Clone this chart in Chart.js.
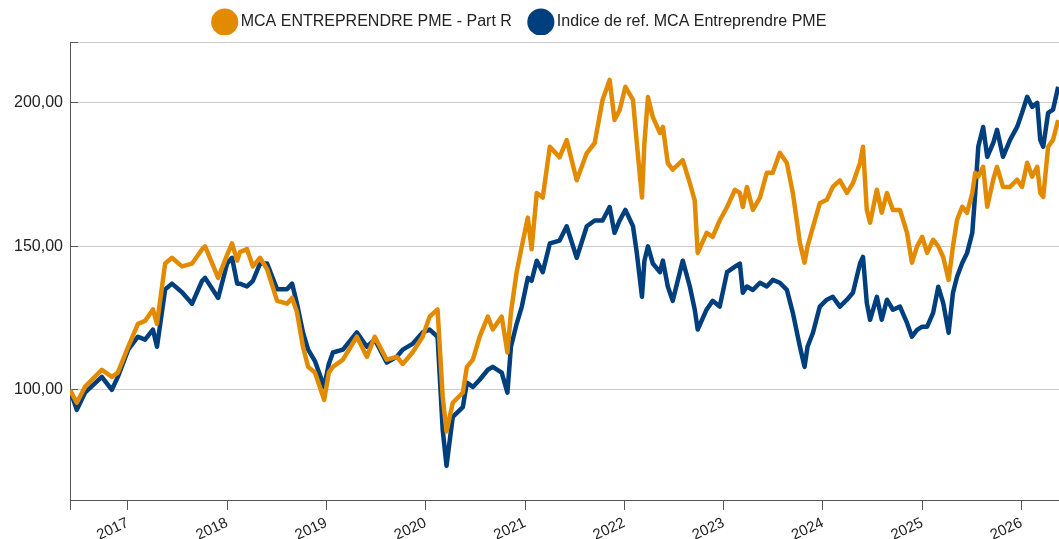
<!DOCTYPE html>
<html>
<head>
<meta charset="utf-8">
<script src="https://cdn.jsdelivr.net/npm/chart.js@4.4.1/dist/chart.umd.min.js"></script>
<style>
  html, body { margin: 0; padding: 0; background: #ffffff; }
  #wrap { width: 1059px; height: 539px; }
</style>
</head>
<body>
<div id="wrap"><canvas id="c" width="1059" height="539"></canvas></div>
<script>
// ---------------- DATA ----------------
const seriesNames = ['MCA ENTREPRENDRE PME - Part R', 'Indice de ref. MCA Entreprendre PME'];

const dates = [
  '2016-06-02','2016-06-27','2016-07-27','2016-09-27','2016-11-03','2016-11-25',
  '2017-01-02','2017-02-07','2017-03-05','2017-04-03','2017-04-18','2017-05-18','2017-06-12','2017-07-19','2017-08-25','2017-10-01','2017-10-12','2017-11-29',
  '2018-01-01','2018-01-19','2018-02-07','2018-02-17','2018-03-15','2018-04-06','2018-05-02','2018-05-28','2018-07-04','2018-08-09','2018-08-28','2018-09-15','2018-10-07','2018-10-26','2018-11-20','2018-12-24',
  '2019-01-10','2019-01-25','2019-03-03','2019-04-23','2019-05-30','2019-06-28','2019-08-11','2019-09-17','2019-10-09','2019-11-14','2019-12-21',
  '2020-01-16','2020-02-14','2020-03-04','2020-03-18','2020-04-10','2020-05-17','2020-06-01','2020-06-23','2020-07-18','2020-08-17','2020-09-04','2020-10-07','2020-10-28','2020-11-10','2020-12-01','2020-12-20',
  '2021-01-11','2021-01-25','2021-02-13','2021-03-07','2021-04-02','2021-05-08','2021-06-03','2021-07-10','2021-08-16','2021-09-14','2021-10-13','2021-11-08','2021-11-26','2021-12-15',
  '2022-01-05','2022-02-02','2022-02-16','2022-03-07','2022-03-16','2022-03-29','2022-04-16','2022-05-12','2022-05-23','2022-06-10','2022-06-28','2022-08-04','2022-08-30','2022-09-17','2022-09-28','2022-10-31','2022-11-22','2022-12-18',
  '2023-01-14','2023-02-12','2023-03-02','2023-03-13','2023-03-28','2023-04-19','2023-05-15','2023-06-09','2023-07-01','2023-07-27','2023-08-22','2023-09-13','2023-10-09','2023-10-26','2023-11-06','2023-11-26','2023-12-21',
  '2024-01-16','2024-02-07','2024-03-04','2024-03-30','2024-04-21','2024-05-17','2024-05-28','2024-06-11','2024-06-23','2024-07-18','2024-08-05','2024-08-24','2024-09-15','2024-10-11','2024-11-06','2024-11-24','2024-12-13',
  '2025-01-01','2025-01-19','2025-02-10','2025-03-01','2025-03-19','2025-04-08','2025-04-24','2025-05-09','2025-05-28','2025-06-15','2025-07-04','2025-07-15','2025-07-26','2025-08-13','2025-08-28','2025-09-19','2025-10-03','2025-10-25','2025-11-20','2025-12-16',
  '2026-01-03','2026-01-22','2026-02-09','2026-02-28','2026-03-11','2026-03-22','2026-04-09','2026-04-27','2026-05-16'
];

const fundValues = [
  100, 95.5, 101, 107, 104.5, 106,
  115, 123, 124, 128, 123, 144, 146, 143, 144, 149, 150, 139,
  147, 151, 145, 148, 149, 143, 146, 142, 131, 130, 132, 127, 115, 108, 106, 96.5,
  106, 108, 110.5, 118.5, 111.5, 118.5, 110.5, 111.5, 109, 113, 118.5,
  125.5, 128, 97.5, 85.5, 95.5, 99, 108, 110.5, 118.5, 125.5, 121, 125.5, 113, 127, 141, 150,
  160, 149, 168.6, 167, 184.7, 181, 187, 173, 182.5, 186, 201, 208, 194, 197.5,
  205.6, 201, 186, 167, 186, 202, 195, 189.5, 191.6, 179, 176.7, 180, 172, 166, 147.7, 154.7, 153.3, 159,
  163.7, 169.7, 168.6, 163.7, 170.7, 162.7, 167, 175.6, 175.6, 182.6, 179, 168.6, 151.2, 144.3, 150, 156.8, 165,
  166.2, 170.7, 173, 168.6, 172, 179, 184.7, 162.7, 158.2, 169.7, 161.7, 168.6, 162.7, 162.7, 154.7, 144.3, 150,
  153.3, 147.7, 152.3, 150, 146.3, 138.3, 150, 159.2, 163.8, 161.7, 168.6, 175.6, 174.3, 177.7, 163.8, 173.2, 177.7, 170.7, 170.7, 173.2,
  170.7, 179.1, 174.3, 177.7, 168.6, 167.2, 184.7, 187.1, 194
];

const indexValues = [
  100, 93, 99, 104.5, 100, 104.5,
  114, 118.5, 117.5, 121, 115, 135, 137, 134, 130, 138, 139, 132,
  144, 146, 137, 137, 136, 138, 144, 144, 135, 135, 137, 130, 120, 114, 110, 101,
  109, 113, 114, 120, 115, 117.5, 109.5, 111.5, 114, 116, 120,
  121, 118.5, 86, 73.5, 90.6, 94, 102.5, 101, 103.5, 107, 108, 106, 99, 115, 123, 129,
  139, 138, 145, 141, 151, 152, 157, 146, 157, 159, 159, 163.7, 154.7, 159,
  162.7, 157, 147.7, 132.4, 145, 150, 144, 141, 145, 136, 131, 145, 136, 128, 121, 128, 131, 129,
  141, 142.9, 144, 133.8, 136, 134.8, 137.3, 136, 138.3, 137.3, 134.8, 126.8, 115, 108, 115, 119.9, 129,
  131.4, 132.4, 129, 131.4, 133.8, 144, 146.3, 130.3, 124.4, 132.4, 124.4, 131.4, 127.9, 129, 123.3, 118.5, 120.9,
  122, 122, 126.8, 135.9, 130.3, 119.9, 133.8, 139.4, 144.2, 147.7, 154.7, 168.6, 184.7, 191.6, 181.2, 186, 190.6, 181.2, 187.1, 191.6,
  196.5, 202.1, 198.6, 200, 187.1, 184.7, 196.5, 197.6, 205.6
];

const xRange = ['2016-06-02', '2026-05-19'];
const xTickDates = ['2017-01-01','2018-01-01','2019-01-01','2020-01-01','2021-01-01','2022-01-01','2023-01-01','2024-01-01','2025-01-01','2026-01-01'];
const xTickLabels = ['2017','2018','2019','2020','2021','2022','2023','2024','2025','2026'];
const yRange = [61.6, 221.2];
const yTicks = [100, 150, 200];

// ---------------- STYLE ----------------
const ORANGE = '#e38b00';
const BLUE = '#003f7d';
const FONT = '"Liberation Sans", Arial, Helvetica, sans-serif';
const LEGEND_DX = -8;
const LEGEND_DY = -7;

const toTs = d => Date.parse(d);
const xMin = toTs(xRange[0]);
const xMax = toTs(xRange[1]);

function pts(values) {
  return dates.map((d, i) => ({ x: toTs(d), y: values[i] }));
}

const legendShift = {
  id: 'legendShift',
  afterLayout(chart) {
    const l = chart.legend;
    if (!l) return;
    l.left += LEGEND_DX; l.right += LEGEND_DX;
    l.top += LEGEND_DY; l.bottom += LEGEND_DY;
  }
};

const xTickTs = xTickDates.map(toTs);

new Chart(document.getElementById('c'), {
  type: 'line',
  data: {
    datasets: [
      {
        label: seriesNames[0],
        data: pts(fundValues),
        borderColor: ORANGE,
        backgroundColor: ORANGE,
        borderWidth: 4.5,
        pointRadius: 0,
        pointHoverRadius: 0,
        tension: 0,
        fill: false,
        borderJoinStyle: 'round'
      },
      {
        label: seriesNames[1],
        data: pts(indexValues),
        borderColor: BLUE,
        backgroundColor: BLUE,
        borderWidth: 4.5,
        pointRadius: 0,
        pointHoverRadius: 0,
        tension: 0,
        fill: false,
        borderJoinStyle: 'round'
      }
    ]
  },
  options: {
    responsive: false,
    animation: false,
    devicePixelRatio: 1,
    layout: { padding: 0 },
    plugins: {
      tooltip: { enabled: false },
      legend: {
        display: true,
        position: 'top',
        align: 'center',
        maxHeight: 42,
        labels: {
          usePointStyle: true,
          pointStyle: 'circle',
          padding: 21,
          color: '#222222',
          font: { family: FONT, size: 16 }
        }
      }
    },
    scales: {
      x: {
        type: 'linear',
        min: xMin,
        max: xMax,
        afterBuildTicks: s => { s.ticks = [xMin].concat(xTickTs).map(v => ({ value: v })); },
        afterFit: s => { s.height = 39; },
        grid: {
          drawOnChartArea: false,
          drawTicks: true,
          tickLength: 10,
          tickColor: '#555555'
        },
        border: { display: true, color: '#555555', width: 1 },
        ticks: {
          autoSkip: false,
          minRotation: 25,
          maxRotation: 25,
          padding: 4,
          color: '#222222',
          font: { family: FONT, size: 15 },
          callback: v => { const i = xTickTs.indexOf(v); return i >= 0 ? xTickLabels[i] : ''; }
        }
      },
      y: {
        type: 'linear',
        min: yRange[0],
        max: yRange[1],
        afterBuildTicks: s => { s.ticks = [yRange[0]].concat(yTicks, [yRange[1]]).map(v => ({ value: v })); },
        afterFit: s => { s.width = 70; },
        grid: {
          color: '#cccccc',
          lineWidth: 1,
          drawTicks: true,
          tickLength: -8,
          tickColor: '#555555'
        },
        border: { display: true, color: '#555555', width: 1 },
        ticks: {
          padding: 15,
          color: '#222222',
          font: { family: FONT, size: 16 },
          callback: v => yTicks.includes(v) ? v.toFixed(2).replace('.', ',') : ''
        }
      }
    }
  },
  plugins: [legendShift]
});
</script>
</body>
</html>
